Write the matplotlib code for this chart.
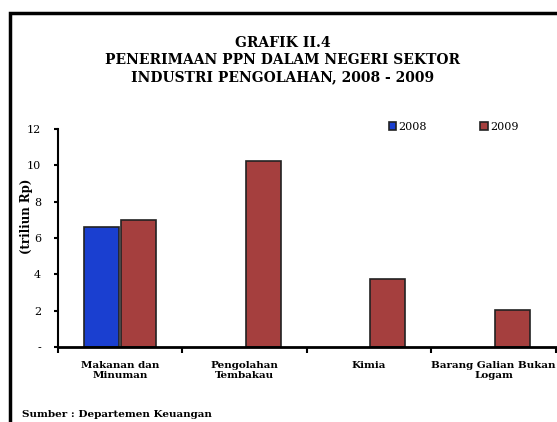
import numpy as np
import matplotlib.pyplot as plt
from matplotlib.patches import Rectangle

# data
categories = ['Makanan dan\nMinuman', 'Pengolahan\nTembakau', 'Kimia', 'Barang Galian Bukan\nLogam']
val_2008 = [6.6, 0, 0, 0]
val_2009 = [6.97, 10.25, 3.73, 2.03]
yticks = [0, 2, 4, 6, 8, 10, 12]
ytick_labels = ['-', '2', '4', '6', '8', '10', '12']

serif = 'DejaVu Serif'
blue = '#1a3fd0'
red = '#a53f3e'

fig = plt.figure(figsize=(5.57, 4.22), dpi=100)
ax = fig.add_axes([0.104, 0.178, 0.894, 0.516])

x = np.arange(len(categories))
w = 0.28
ax.bar(x[:1] - 0.15, val_2008[:1], w, color=blue, edgecolor='#222222', linewidth=1.2, label='2008')
ax.bar(x + 0.15, val_2009, w, color=red, edgecolor='#222222', linewidth=1.2, label='2009')

ax.set_xlim(-0.5, 3.5)
ax.set_ylim(0, 12)
ax.set_yticks(yticks)
ax.set_yticklabels(ytick_labels, fontsize=8, family=serif)
ax.tick_params(axis='y', direction='out', length=3, width=1.5, pad=9)

ax.set_xticks(np.arange(-0.5, 4, 1))
ax.set_xticklabels([])
ax.tick_params(axis='x', which='major', direction='out', length=4, width=1.5)
ax.set_xticks(x, minor=True)
ax.set_xticklabels(categories, minor=True, fontsize=7.5, family=serif, fontweight='bold',
                   linespacing=1.15)
ax.tick_params(axis='x', which='minor', length=0, pad=10)

for s in ['top', 'right']:
    ax.spines[s].set_visible(False)
ax.spines['left'].set_linewidth(1.5)
ax.spines['bottom'].set_linewidth(2)

ax.set_ylabel('(triliun Rp)', fontsize=8.5, family=serif, fontweight='bold')
ax.yaxis.set_label_coords(-0.05, 0.6)

ax.legend(ncol=2, loc='center', bbox_to_anchor=(0.795, 1.01), frameon=False,
          prop={'family': serif, 'size': 8}, handlelength=0.7, handleheight=0.8,
          handletextpad=0.2, columnspacing=4.8)

fig.text(0.508, 0.858, 'GRAFIK II.4\nPENERIMAAN PPN DALAM NEGERI SEKTOR\nINDUSTRI PENGOLAHAN, 2008 - 2009',
         ha='center', va='center', fontsize=10, fontweight='bold', family=serif, linespacing=1.3)
fig.text(0.04, 0.006, 'Sumber : Departemen Keuangan', fontsize=7.5, family=serif, fontweight='bold',
         va='bottom')

fig.patches.append(Rectangle((0.018, -0.1), 1.1, 1.069, transform=fig.transFigure,
                             fill=False, edgecolor='black', linewidth=2.5, clip_on=False))

fig.savefig('out.png', dpi=100)
